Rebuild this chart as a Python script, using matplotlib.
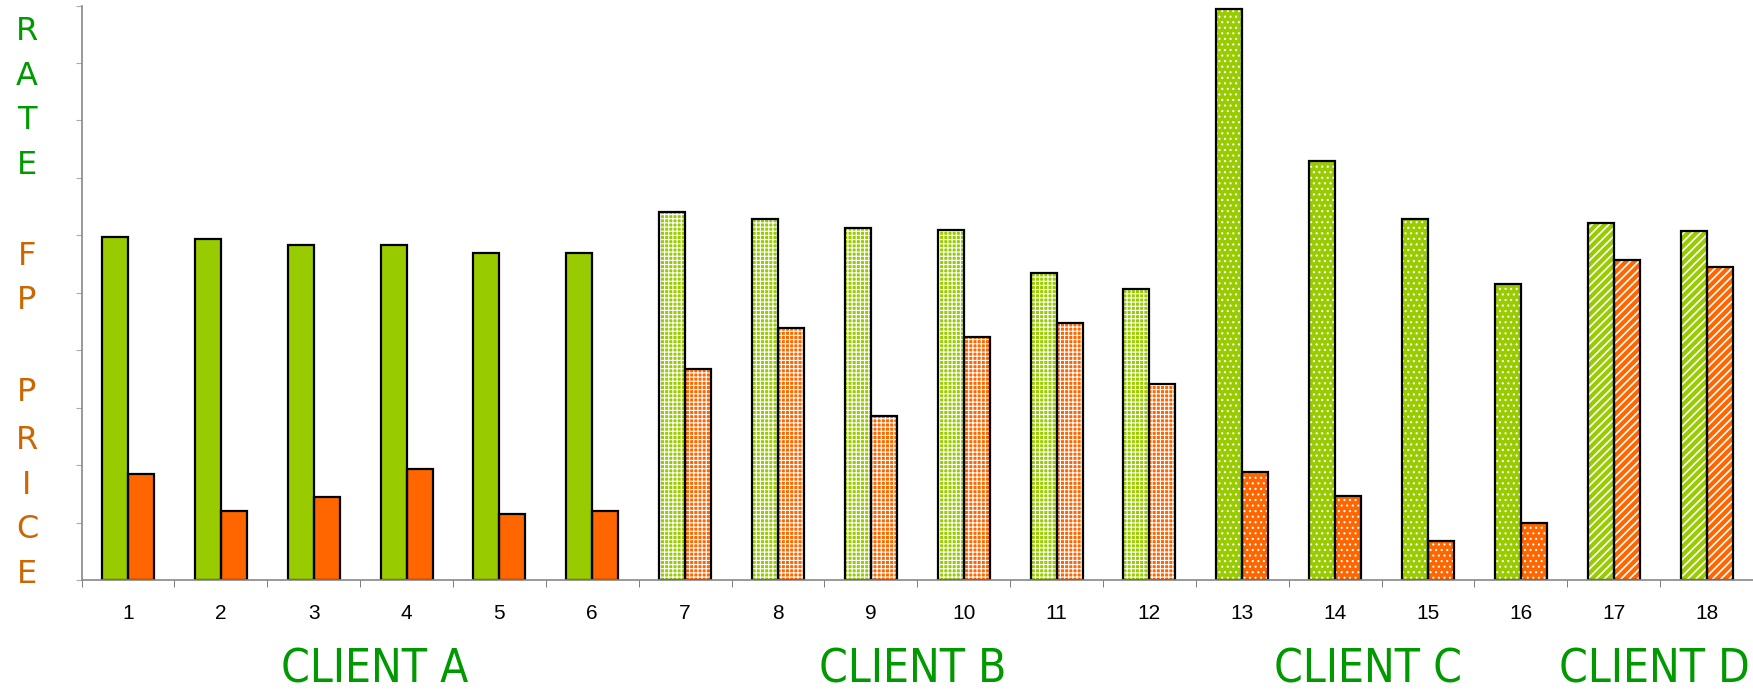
import matplotlib.pyplot as plt
from matplotlib import transforms

# data (axis 0..10, no labels)
cases = list(range(1, 19))
rate = [5.97, 5.93, 5.84, 5.84, 5.70, 5.70,
        6.40, 6.28, 6.13, 6.09, 5.35, 5.06,
        9.94, 7.30, 6.28, 5.16,
        6.21, 6.07]
fp_price = [1.85, 1.21, 1.44, 1.93, 1.15, 1.21,
            3.68, 4.38, 2.86, 4.24, 4.47, 3.42,
            1.89, 1.46, 0.68, 0.99,
            5.58, 5.45]
clients = ["CLIENT A", "CLIENT B", "CLIENT C", "CLIENT D"]
client_pos = [3.66, 9.45, 14.35, 17.44]
# which case belongs to which bar style
groups = [(0, 6, ""), (6, 12, "++++"), (12, 16, "..."), (16, 18, "////")]

GREEN = "#99CC00"
ORANGE = "#FF6600"
w = 0.28

fig = plt.figure(figsize=(17.53, 6.94), dpi=100)
ax = fig.add_axes([0.0465, 0.164, 0.9535, 0.828])

for start, stop, hatch in groups:
    xs = cases[start:stop]
    xg = [x - w / 2 for x in xs]
    xo = [x + w / 2 for x in xs]
    lw_h = 1.2 if hatch == "////" else 0.8
    with plt.rc_context({"hatch.linewidth": lw_h}):
        ax.bar(xg, rate[start:stop], w, color=GREEN, hatch=hatch,
               edgecolor="white", linewidth=0)
        ax.bar(xo, fp_price[start:stop], w, color=ORANGE, hatch=hatch,
               edgecolor="white", linewidth=0)
    # black outlines on top
    ax.bar(xg, rate[start:stop], w, fill=False, edgecolor="black", linewidth=1.6)
    ax.bar(xo, fp_price[start:stop], w, fill=False, edgecolor="black", linewidth=1.6)

ax.set_xlim(0.5, 18.5)
ax.set_ylim(0, 10)
for s in ["top", "right"]:
    ax.spines[s].set_visible(False)
for s in ["left", "bottom"]:
    ax.spines[s].set_color("#888888")
    ax.spines[s].set_linewidth(1.2)

ax.set_xticks(cases)
ax.set_xticklabels([str(c) for c in cases], fontsize=15, family="Liberation Sans")
ax.set_xticks([c + 0.5 for c in [0] + cases], minor=True)
ax.tick_params(axis="x", which="major", length=0, pad=17)
ax.tick_params(axis="x", which="minor", length=5, color="#666666", direction="out")
ax.set_yticks(range(0, 11))
ax.tick_params(axis="y", length=4, color="#aaaaaa", labelleft=False)

# vertical axis "title" spelled letter by letter
letters = [("R", 28, "#009900"), ("A", 68, "#009900"), ("T", 108, "#009900"),
           ("E", 148, "#009900"), ("F", 229, "#CC6600"), ("P", 269, "#CC6600"),
           ("P", 351, "#CC6600"), ("R", 394, "#CC6600"), ("I", 434, "#CC6600"),
           ("C", 474, "#CC6600"), ("E", 514, "#CC6600")]
for ch, y, col in letters:
    fig.text(27 / 1753, 1 - y * 1.118 / 694, ch, color=col, fontsize=23,
             ha="center", va="center", family="DejaVu Sans")

trans = transforms.blended_transform_factory(ax.transData, fig.transFigure)
for name, xp in zip(clients, client_pos):
    ax.text(xp, 0.002, name, transform=trans, ha="center", va="bottom",
            fontsize=33, color="#009900", family="DejaVu Sans",
            fontstretch="condensed")

fig.savefig("out.png", dpi=100)
